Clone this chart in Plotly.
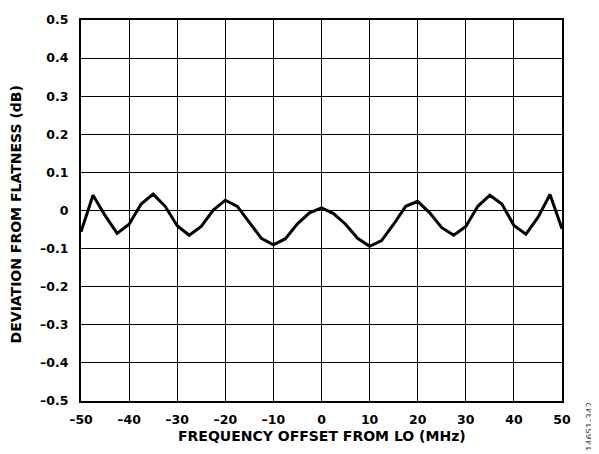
import plotly.graph_objects as go

freq_mhz = [-50, -47.5, -45, -42.5, -40, -37.5, -35, -32.5, -30, -27.5, -25, -22.5, -20,
            -17.5, -15, -12.5, -10, -7.5, -5, -2.5, 0, 2.5, 5, 7.5, 10, 12.5, 15, 17.5,
            20, 22.5, 25, 27.5, 30, 32.5, 35, 37.5, 40, 42.5, 45, 47.5, 50]
deviation_db = [-0.056, 0.040, -0.013, -0.060, -0.036, 0.017, 0.043, 0.011, -0.040, -0.065,
                -0.042, 0.001, 0.027, 0.011, -0.031, -0.073, -0.090, -0.074, -0.035, -0.006,
                0.007, -0.008, -0.036, -0.073, -0.094, -0.079, -0.036, 0.011, 0.024, -0.006,
                -0.045, -0.065, -0.042, 0.011, 0.040, 0.017, -0.039, -0.062, -0.018, 0.042,
                -0.048]

x_tickvals = [-50, -40, -30, -20, -10, 0, 10, 20, 30, 40, 50]
x_ticktext = ["–50", "–40", "–30", "–20", "–10", "0", "10", "20", "30", "40", "50"]
y_tickvals = [0.5, 0.4, 0.3, 0.2, 0.1, 0, -0.1, -0.2, -0.3, -0.4, -0.5]
y_ticktext = ["0.5", "0.4", "0.3", "0.2", "0.1", "0", "–0.1", "–0.2", "–0.3", "–0.4", "–0.5"]

font_family = "DejaVu Sans, Arial, sans-serif"

fig = go.Figure()
fig.add_trace(go.Scatter(x=freq_mhz, y=deviation_db, mode="lines",
                         line=dict(color="black", width=3), showlegend=False))

# the page body adds an 8px offset; figure size and margins compensate
fig.update_layout(
    width=591, height=446,
    margin=dict(l=73, r=37, t=4, b=53),
    paper_bgcolor="white", plot_bgcolor="white",
    font=dict(family=font_family, color="black"),
    xaxis=dict(range=[-50, 50], tickvals=x_tickvals, ticktext=x_ticktext,
               showgrid=True, gridcolor="black", gridwidth=1,
               showline=True, linecolor="black", linewidth=2, mirror=True,
               zeroline=False, ticks="", ticklabelstandoff=6, ticklabeloverflow="allow",
               tickfont=dict(size=12.5, family=font_family, weight="bold")),
    yaxis=dict(range=[-0.5, 0.5], tickvals=y_tickvals, ticktext=y_ticktext,
               showgrid=True, gridcolor="black", gridwidth=1,
               showline=True, linecolor="black", linewidth=2, mirror=True,
               zeroline=False, ticks="", ticklabelstandoff=8, ticklabeloverflow="allow",
               tickfont=dict(size=12.5, family=font_family, weight="bold")),
    annotations=[
        dict(text="<b>FREQUENCY OFFSET FROM LO (MHz)</b>", xref="x domain", yref="y domain",
             x=0.5, y=-0.0925, xanchor="center", yanchor="middle", showarrow=False,
             font=dict(size=14, family=font_family)),
        dict(text="<b>DEVIATION FROM FLATNESS (dB)</b>", xref="x domain", yref="y domain",
             x=-0.135, y=0.49, xanchor="center", yanchor="middle", showarrow=False,
             textangle=-90, font=dict(size=14, family=font_family)),
        dict(text="14651-342", xref="x domain", yref="y domain",
             x=1.057, y=-0.067, xanchor="center", yanchor="middle", showarrow=False,
             textangle=-90, font=dict(size=9, family=font_family, color="#444")),
    ],
)

fig.write_html("out.html")
